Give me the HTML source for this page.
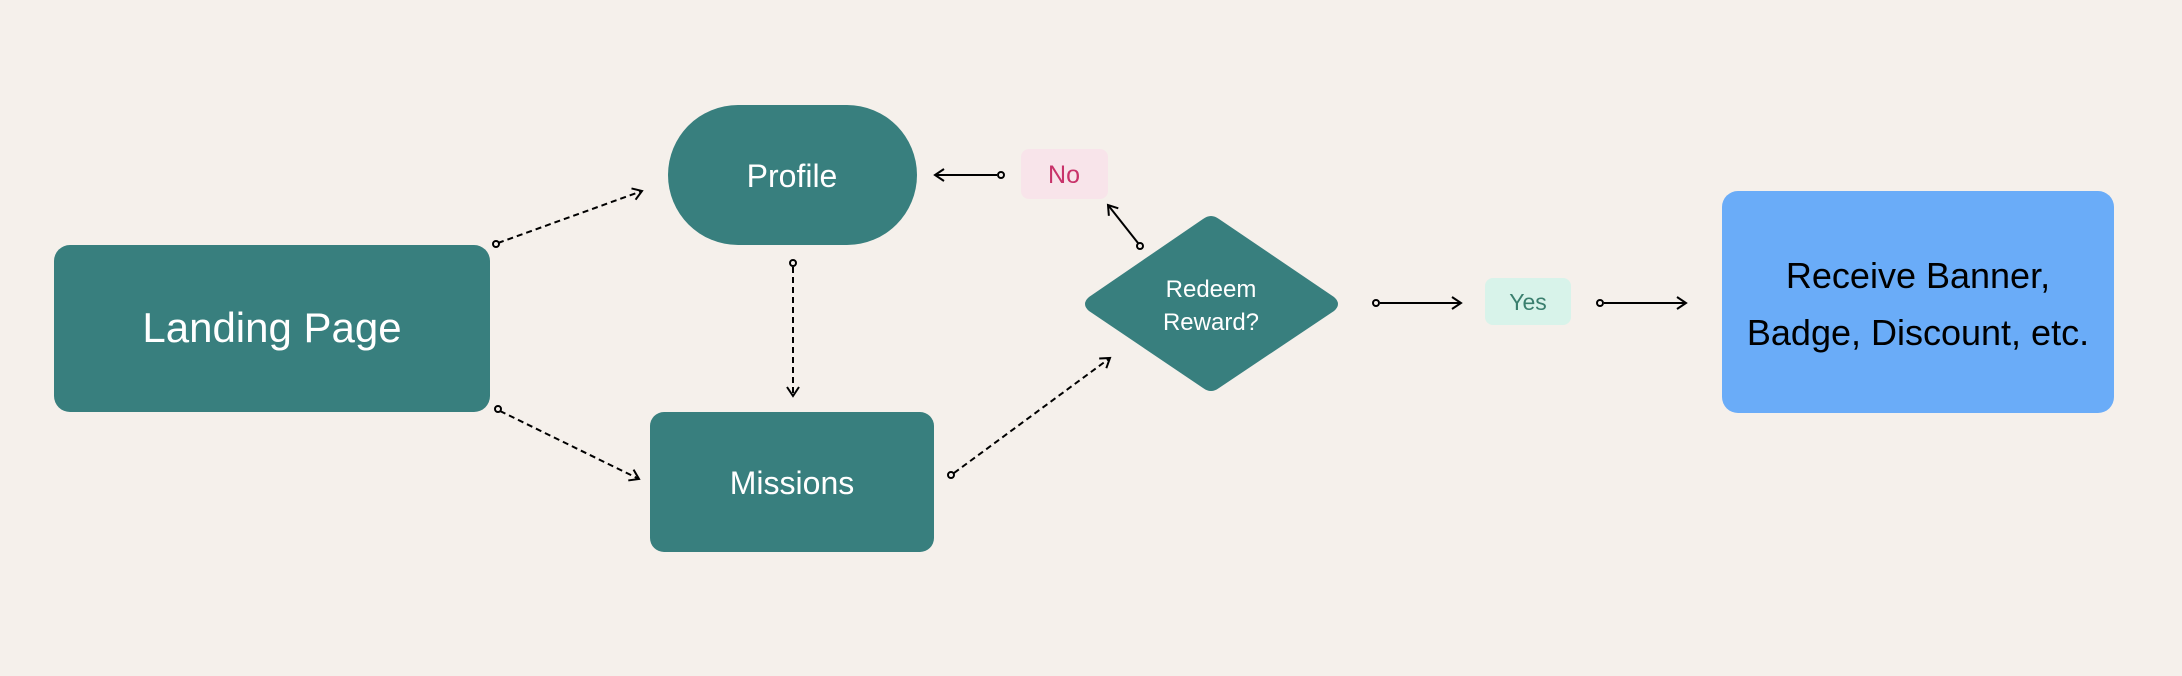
<!DOCTYPE html>
<html><head><meta charset="utf-8"><style>
html,body{margin:0;padding:0;background:#f5f0eb;}
svg{display:block}
text{font-family:"Liberation Sans","DejaVu Sans",sans-serif;}
</style></head><body>
<svg width="2182" height="676" viewBox="0 0 2182 676" xmlns="http://www.w3.org/2000/svg">
<rect width="2182" height="676" fill="#f5f0eb"/>
<defs>
<marker id="ah" markerWidth="14" markerHeight="14" refX="11" refY="7" orient="auto" markerUnits="userSpaceOnUse">
<path d="M2,1 L11,7 L2,13" fill="none" stroke="#000" stroke-width="2"/>
</marker>
</defs>
<rect x="54" y="245" width="436" height="167" rx="16" fill="#387f7e"/>
<text x="272" y="342" font-size="42" fill="#fff" text-anchor="middle">Landing Page</text>
<rect x="668" y="105" width="249" height="140" rx="70" fill="#387f7e"/>
<text x="792" y="187" font-size="32" fill="#fff" text-anchor="middle">Profile</text>
<rect x="650" y="412" width="284" height="140" rx="14" fill="#387f7e"/>
<text x="792" y="494" font-size="32" fill="#fff" text-anchor="middle">Missions</text>
<path d="M1203,219 Q1211,213 1219,219 L1334,297 Q1342,304 1334,311 L1219,388 Q1211,394 1203,388 L1089,311 Q1081,304 1089,297 Z" fill="#387f7e"/>
<text x="1211" y="297" font-size="24" fill="#fff" text-anchor="middle">Redeem</text>
<text x="1211" y="330" font-size="24" fill="#fff" text-anchor="middle">Reward?</text>
<rect x="1021" y="149" width="87" height="50" rx="8" fill="#f8e4ea"/>
<text x="1064" y="183" font-size="25" fill="#c8336a" text-anchor="middle">No</text>
<rect x="1485" y="278" width="86" height="47" rx="8" fill="#d8f3ea"/>
<text x="1528" y="310" font-size="23" fill="#3a7f6e" text-anchor="middle">Yes</text>
<rect x="1722" y="191" width="392" height="222" rx="16" fill="#6aacf8"/>
<text x="1918" y="288" font-size="36" fill="#000" text-anchor="middle">Receive Banner,</text>
<text x="1918" y="345" font-size="36" fill="#000" text-anchor="middle">Badge, Discount, etc.</text>
<g fill="none" stroke="#000" stroke-width="2">
<line x1="498" y1="243" x2="642" y2="191" stroke-dasharray="6,4" marker-end="url(#ah)"/>
<line x1="500" y1="411" x2="639" y2="479" stroke-dasharray="6,4" marker-end="url(#ah)"/>
<line x1="793" y1="267" x2="793" y2="396" stroke-dasharray="6,4" marker-end="url(#ah)"/>
<line x1="954" y1="473" x2="1110" y2="358" stroke-dasharray="6,4" marker-end="url(#ah)"/>
<line x1="997" y1="175" x2="935" y2="175" marker-end="url(#ah)"/>
<line x1="1138" y1="243" x2="1108" y2="205" marker-end="url(#ah)"/>
<line x1="1380" y1="303" x2="1461" y2="303" marker-end="url(#ah)"/>
<line x1="1604" y1="303" x2="1686" y2="303" marker-end="url(#ah)"/>
</g>
<g fill="#f5f0eb" stroke="#000" stroke-width="2">
<circle cx="496" cy="244" r="3"/>
<circle cx="498" cy="409" r="3"/>
<circle cx="793" cy="263" r="3"/>
<circle cx="951" cy="475" r="3"/>
<circle cx="1001" cy="175" r="3"/>
<circle cx="1140" cy="246" r="3"/>
<circle cx="1376" cy="303" r="3"/>
<circle cx="1600" cy="303" r="3"/>
</g>
</svg>
</body></html>
